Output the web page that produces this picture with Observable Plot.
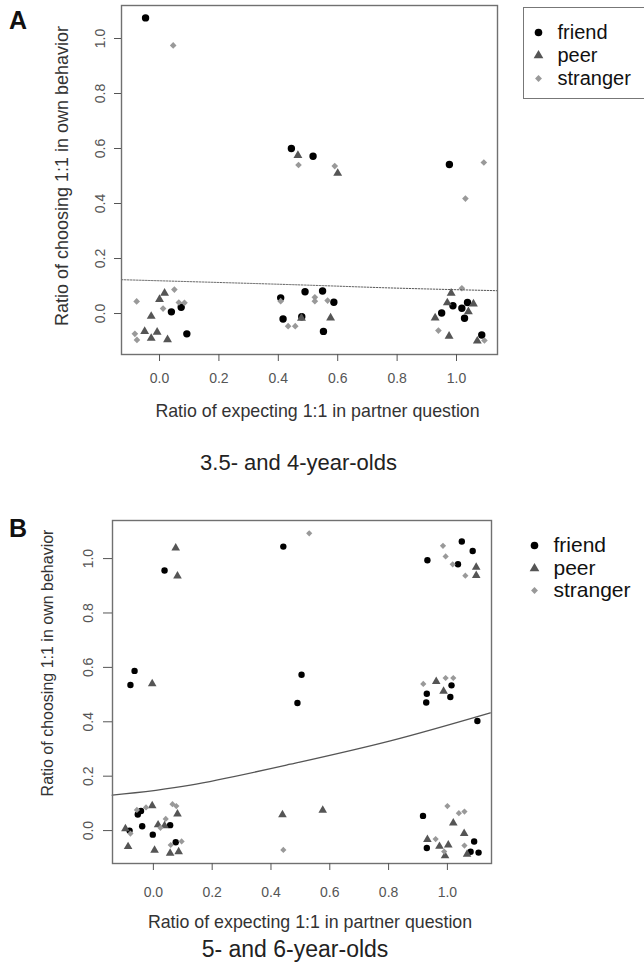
<!DOCTYPE html>
<html><head><meta charset="utf-8">
<script src="https://cdn.jsdelivr.net/npm/d3@7"></script>
<script src="https://cdn.jsdelivr.net/npm/@observablehq/plot@0.6"></script>
<style>
body{margin:0;background:#fff;}
#page{position:relative;width:644px;height:970px;overflow:hidden;font-family:"Liberation Sans",Arial,sans-serif;}
.panel{position:absolute;left:0;}
.tag{position:absolute;left:9px;font-weight:bold;font-size:25px;color:#111;}
.lbox{position:absolute;border:1.3px solid #777;border-right:none;}
</style></head>
<body><div id="page">
<div class="tag" style="top:6px">A</div>
<div class="tag" style="top:514px">B</div>
<div class="lbox" style="left:523px;top:7px;width:130px;height:90px"></div>
</div>
<script>
const groups = ["friend", "peer", "stranger"];
const groupFill = ["#000000", "#555555", "#999999"];
const groupSymbol = ["circle", "triangle", "diamond2"];
const tickValues = [0, 0.2, 0.4, 0.6, 0.8, 1.0];
const xTitle = "Ratio of expecting 1:1 in partner question";
const yTitle = "Ratio of choosing 1:1 in own behavior";
const subtitles = ["3.5- and 4-year-olds", "5- and 6-year-olds"];

// Panel A (3.5- and 4-year-olds): [partner ratio (jittered), own ratio (jittered)]
const aFriend = [[-0.047,1.075],[0.444,0.60],[0.517,0.572],[0.976,0.542],
  [0.04,0.006],[0.073,0.023],[0.092,-0.074],
  [0.408,0.057],[0.416,-0.02],[0.49,0.079],[0.549,0.082],[0.587,0.041],[0.479,-0.012],[0.552,-0.065],
  [0.988,0.028],[1.018,0.019],[1.037,0.04],[1.027,-0.017],[0.95,0.002],[1.085,-0.078]];
const aPeer = [[0.466,0.575],[0.6,0.51],
  [0.017,0.074],[0.0,0.051],[-0.028,-0.01],[-0.05,-0.065],[-0.028,-0.09],[-0.008,-0.068],[0.027,-0.095],
  [0.478,-0.017],[0.576,-0.016],
  [0.982,0.074],[0.969,0.039],[1.057,0.035],[1.04,0.007],[0.928,-0.016],[0.975,-0.082],[1.07,-0.1]];
const aStranger = [[0.046,0.975],[0.468,0.54],[0.59,0.536],[1.092,0.549],[1.03,0.418],
  [-0.077,0.044],[0.05,0.087],[0.012,0.018],[0.065,0.04],[0.084,0.039],[-0.083,-0.074],[-0.076,-0.096],
  [0.408,0.045],[0.433,-0.046],[0.457,-0.046],[0.523,0.059],[0.523,0.045],[0.566,0.047],
  [1.018,0.092],[0.939,-0.062],[1.094,-0.098]];
const aFitX = [-0.128, 0.475, 0.778, 1.138];
const aFitY = [0.123, 0.104, 0.093, 0.083];

// Panel B (5- and 6-year-olds)
const bFriend = [[0.038,0.956],[0.442,1.044],[-0.064,0.587],[-0.078,0.535],[0.504,0.573],[0.49,0.469],
  [1.049,1.063],[1.086,1.028],[0.932,0.994],[1.036,0.979],
  [1.014,0.534],[0.93,0.503],[1.01,0.491],[0.928,0.471],[1.102,0.403],
  [-0.042,0.072],[-0.053,0.059],[-0.038,0.016],[0.057,0.02],[-0.081,0.0],[-0.002,-0.015],[0.076,-0.043],
  [0.917,0.054],[0.93,-0.064],[1.091,-0.04],[1.079,-0.078],[1.106,-0.081]];
const bPeer = [[0.076,1.039],[0.082,0.936],[-0.004,0.54],[1.098,0.968],[1.098,0.938],[0.962,0.548],[0.987,0.512],
  [-0.004,0.091],[0.082,0.061],[0.016,0.021],[0.038,0.018],[-0.095,0.007],[-0.086,-0.059],[0.004,-0.072],[0.057,-0.083],[0.086,-0.078],
  [0.439,0.058],[0.576,0.075],
  [1.02,0.028],[1.057,-0.011],[0.932,-0.033],[0.973,-0.058],[1.003,-0.053],[0.992,-0.093],[1.067,-0.087]];
const bStranger = [[0.53,1.093],[0.985,1.047],[0.994,1.008],[1.018,0.979],[1.061,0.937],
  [0.918,0.539],[0.994,0.561],[1.02,0.561],
  [-0.056,0.076],[-0.025,0.085],[0.065,0.097],[0.078,0.09],[0.042,0.043],[0.024,0.01],[-0.078,-0.011],[0.096,-0.04],[0.059,-0.053],
  [0.442,-0.071],
  [1.0,0.09],[1.039,0.064],[1.058,0.07],[0.96,-0.031],[1.058,-0.055],[0.989,-0.077]];
const bFitX = [-0.14, 0.126, 0.466, 0.806, 1.146];
const bFitY = [0.13, 0.167, 0.244, 0.33, 0.433];

function panel(cfg) {
  const sets = [cfg.friend, cfg.peer, cfg.stranger];
  const rs = cfg.r;
  const fit = cfg.fitX.map((x, i) => ({x, y: cfg.fitY[i]}));
  const marks = [];
  groups.forEach((g, i) => {
    marks.push(Plot.dot(sets[i].map(([x, y]) => ({group: g, x, y})), {
      x: "x", y: "y", symbol: "group", fill: "group", r: rs[i], stroke: "none"
    }));
  });
  marks.push(Plot.line(fit, {x: "x", y: "y", curve: "natural", stroke: "#555", strokeWidth: cfg.fitWidth, strokeDasharray: cfg.dash}));
  marks.push(Plot.frame({stroke: "#707070", strokeWidth: 1.4}));
  marks.push(Plot.axisX({ticks: tickValues, tickFormat: d3.format(".1f"), tickSize: 7, tickPadding: cfg.xPad, fontSize: 14, fill: "#555", stroke: "#555", label: null}));
  marks.push(Plot.axisY({ticks: tickValues, tickFormat: d3.format(".1f"), tickSize: cfg.yTick, tickRotate: -90, tickPadding: cfg.yPad, fontSize: 14, fill: "#555", stroke: "#555", label: null}));
  marks.push(Plot.text([xTitle], {frameAnchor: "bottom", dx: 8, dy: cfg.xTitleDy, textAnchor: "middle", lineAnchor: "middle", fontSize: 17.8, fill: "#333"}));
  marks.push(Plot.text([yTitle], {frameAnchor: "left", dx: cfg.yTitleDx, dy: cfg.yTitleDy, rotate: -90, textAnchor: "middle", lineAnchor: "middle", fontSize: cfg.yTitleSize, fill: "#333"}));
  marks.push(Plot.text([cfg.subtitle], {frameAnchor: "bottom", dx: cfg.subDx, dy: cfg.subDy, textAnchor: "middle", lineAnchor: "middle", fontSize: cfg.subSize, fill: "#222"}));
  // legend
  groups.forEach((g, i) => {
    marks.push(Plot.dot([g], {frameAnchor: "top-right", dx: cfg.legDx, dy: cfg.legDy[i], symbol: () => g, fill: () => g, r: cfg.legR[i]}));
    marks.push(Plot.text([g], {frameAnchor: "top-right", dx: cfg.legDx + 19, dy: cfg.legDy[i], textAnchor: "start", lineAnchor: "middle", fontSize: cfg.legSize, fill: "#111"}));
  });
  return Plot.plot({
    width: 644, height: cfg.height,
    marginLeft: cfg.ml, marginRight: cfg.mr, marginTop: cfg.mt, marginBottom: cfg.mb,
    x: {domain: cfg.xDomain, axis: null, label: null},
    y: {domain: cfg.yDomain, axis: null, label: null},
    symbol: {domain: groups, range: groupSymbol},
    color: {domain: groups, range: groupFill},
    style: {fontFamily: "'Liberation Sans', Arial, sans-serif", background: "transparent", overflow: "visible"},
    marks
  });
}

const svgA = panel({
  friend: aFriend, peer: aPeer, stranger: aStranger, fitX: aFitX, fitY: aFitY,
  xDomain: [-0.128, 1.138], yDomain: [-0.149, 1.12],
  height: 480, ml: 121, mr: 147, mt: 5, mb: 126,
  r: [3.7, 3.3, 3], fitWidth: 1, dash: "1.5,1.5",
  xPad: 12, yTick: 7, yPad: 10, xTitleDy: 57, yTitleDx: -59, yTitleDy: -4, yTitleSize: 18,
  subtitle: subtitles[0], subDx: -11, subDy: 108, subSize: 22,
  legDx: 41, legDy: [27, 50, 73], legR: [3.8, 3.6, 3.1], legSize: 20
});
const svgB = panel({
  friend: bFriend, peer: bPeer, stranger: bStranger, fitX: bFitX, fitY: bFitY,
  xDomain: [-0.139, 1.15], yDomain: [-0.121, 1.14],
  height: 490, ml: 112, mr: 153, mt: 40, mb: 107,
  r: [3.2, 3.2, 2.8], fitWidth: 1.3, dash: null,
  xPad: 17, yTick: 9, yPad: 11, xTitleDy: 59, yTitleDx: -65, yTitleDy: -29, yTitleSize: 16,
  subtitle: subtitles[1], subDx: -7, subDy: 86, subSize: 23,
  legDx: 43, legDy: [25, 48, 70], legR: [3.8, 3.6, 3.1], legSize: 21
});
svgA.classList.add("panel"); svgA.style.top = "0px";
svgB.classList.add("panel"); svgB.style.top = "480px";
const page = document.getElementById("page");
page.insertBefore(svgB, page.firstChild);
page.insertBefore(svgA, page.firstChild);
</script>
</body></html>
